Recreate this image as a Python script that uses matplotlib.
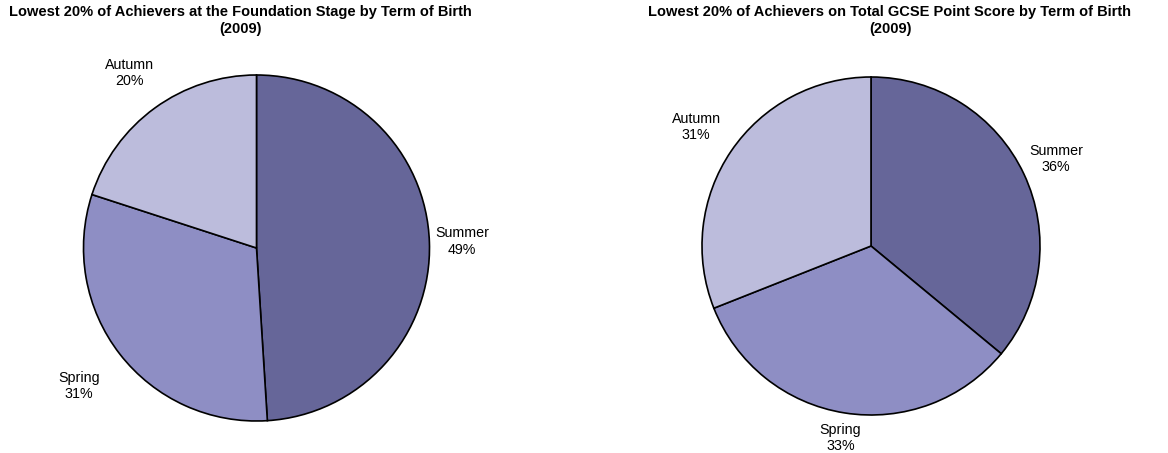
import numpy as np
import matplotlib.pyplot as plt

plt.rcParams['font.family'] = ['Liberation Sans', 'DejaVu Sans']

## data
terms = ['Summer', 'Spring', 'Autumn']
foundation = [49, 31, 20]
gcse = [36, 33, 31]
titles = ['Lowest 20% of Achievers at the Foundation Stage by Term of Birth\n(2009)',
          'Lowest 20% of Achievers on Total GCSE Point Score by Term of Birth\n(2009)']

colors = ['#666699', '#8e8ec4', '#bcbcdc']

W, H = 1168, 453
fig = plt.figure(figsize=(W / 100, H / 100), dpi=100)

## pie centre / radius in pixels, label distances per wedge
layout = [((256.5, 248), 173, [1.19, 1.30, 1.25], 240),
          ((871, 246), 169, [1.21, 1.15, 1.25], 890)]

for vals, title, (ctr, r, dists, tx) in zip([foundation, gcse], titles, layout):
    cx, cy = ctr
    ax = fig.add_axes([(cx - r) / W, 1 - (cy + r) / H, 2 * r / W, 2 * r / H])
    wedges, _ = ax.pie(vals, colors=colors, startangle=90, counterclock=False,
                       radius=1, wedgeprops=dict(edgecolor='black', linewidth=1.2))
    ax.set_xlim(-1, 1)
    ax.set_ylim(-1, 1)
    ax.axis('off')
    for w, name, v, d in zip(wedges, terms, vals, dists):
        ang = np.deg2rad((w.theta1 + w.theta2) / 2)
        ax.text(d * np.cos(ang), d * np.sin(ang), '{}\n{}%'.format(name, v),
                ha='center', va='center', fontsize=10.3, linespacing=1.2,
                clip_on=False)
    fig.text(tx / W, 1 - 5 / H, title, ha='center', va='top', fontsize=10.5,
             fontweight='bold', linespacing=1.25)

fig.savefig('out.png', dpi=100)
